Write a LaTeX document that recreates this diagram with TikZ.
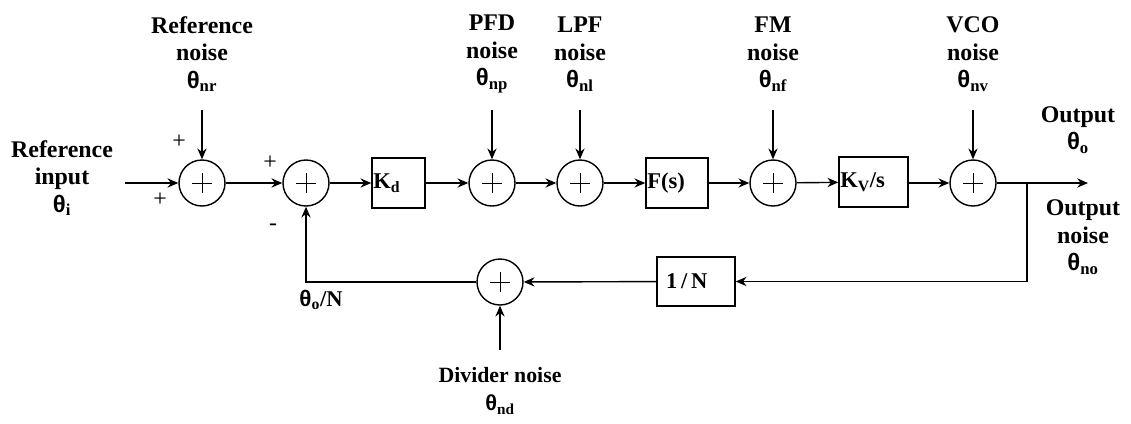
\documentclass[tikz,border=0pt]{standalone}
\usepackage{fontspec}
\setmainfont{Liberation Serif}
\newfontfamily\thetafont{Liberation Sans}
\usetikzlibrary{arrows.meta}
\newcommand{\thsub}[1]{{\thetafont\bfseries θ}\textsubscript{#1}}

\begin{document}
\begin{tikzpicture}[x=0.25mm, y=-0.25mm, line width=1pt,
    >={Stealth[length=2.7mm,width=2.3mm]},
    every node/.style={font=\fontsize{17}{19.5}\selectfont\bfseries, align=center},
    sumnode/.style={circle, draw, minimum size=11.5mm, inner sep=0pt,
        path picture={
            \draw[line width=0.7pt] (path picture bounding box.center) ++(-10,0) -- ++(20,0);
            \draw[line width=0.7pt] (path picture bounding box.center) ++(0,-10) -- ++(0,20);
        }},
    blockbox/.style={draw, minimum height=12.5mm, inner xsep=0pt, text width=#1, align=left,
        font=\fontsize{16}{18}\selectfont\bfseries},
    sign/.style={font=\fontsize{17}{17}\selectfont}]
    \useasboundingbox (0,0) rectangle (1131,423);

    % forward path
    \node[sumnode] (s1) at (202,183) {};
    \node[sumnode] (s2) at (306,183) {};
    \node[blockbox=13.25mm] (kd) at (398.5,183) {\hspace*{1pt}K\textsubscript{d}};
    \node[sumnode] (s3) at (492,183) {};
    \node[sumnode] (s4) at (580,183) {};
    \node[blockbox=15.5mm] (fs) at (677,183) {\hspace*{1pt}F(s)};
    \node[sumnode] (s5) at (773,183) {};
    \node[blockbox=17.25mm] (kv) at (873.5,182) {\hspace*{1pt}K\textsubscript{V}/s};
    \node[sumnode] (s6) at (973,183) {};

    % feedback path
    \node[blockbox=19.5mm, minimum height=12.25mm] (nbox) at (696,281.5) {\hspace*{2.3mm}1\,/\,N};
    \node[sumnode] (s7) at (500,282) {};

    % labels
    \node (inlbl) at (62,178) {Reference\\input\\\thsub{i}};
    \node (nrlbl) at (202,54) {Reference\\noise\\\thsub{nr}};
    \node (nplbl) at (492,54) {PFD\\noise\\\thsub{np}};
    \node (nllbl) at (580,54) {LPF\\noise\\\thsub{nl}};
    \node (nflbl) at (773,54) {FM\\noise\\\thsub{nf}};
    \node (nvlbl) at (973,54) {VCO\\noise\\\thsub{nv}};
    \node (outlbl) at (1078,130) {Output\\\thsub{o}};
    \node (nolbl) at (1083,237) {Output\\noise\\\thsub{no}};
    \node[font=\fontsize{15.5}{19.5}\selectfont\bfseries] (ndlbl) at (500,391) {Divider noise\\\thsub{nd}};
    \node[anchor=west, font=\fontsize{16}{18}\selectfont\bfseries] (fblbl) at (294,300) {\thsub{o}/N};
    \node[sign] (p1) at (179,142) {+};
    \node[sign] (p2) at (160,200) {+};
    \node[sign] (p3) at (270,163) {+};
    \node[sign] (m1) at (273,227) {-};

    % connectors
    \coordinate (in) at (125,183);
    \coordinate (nr) at (202,110);
    \coordinate (np) at (492,110);
    \coordinate (nl) at (580,110);
    \coordinate (nf) at (773,110);
    \coordinate (nv) at (973,110);
    \coordinate (nd) at (500,350);
    \coordinate (branch) at (1027,183);
    \coordinate (out) at (1088,183);

    \draw[->] (in) -- (s1.west);
    \draw[->] (s1) -- (s2);
    \draw[->] (s2) -- (kd);
    \draw[->] (kd) -- (s3);
    \draw[->] (s3) -- (s4);
    \draw[->] (s4) -- (fs);
    \draw[->] (fs) -- (s5);
    \draw[->] (s5) -- (kv);
    \draw[->] (kv.east |- s6) -- (s6);
    \draw[->] (s6) -- (out);
    \draw[->] (branch) |- (nbox.east);
    \draw[->] (nbox) -- (s7);
    \draw[->] (s7.west) -| (s2.south);
    \foreach \n/\s in {nr/s1, np/s3, nl/s4, nf/s5, nv/s6}
        \draw[->] (\n) -- (\s.north);
    \draw[->] (nd) -- (s7.south);
\end{tikzpicture}
\end{document}
